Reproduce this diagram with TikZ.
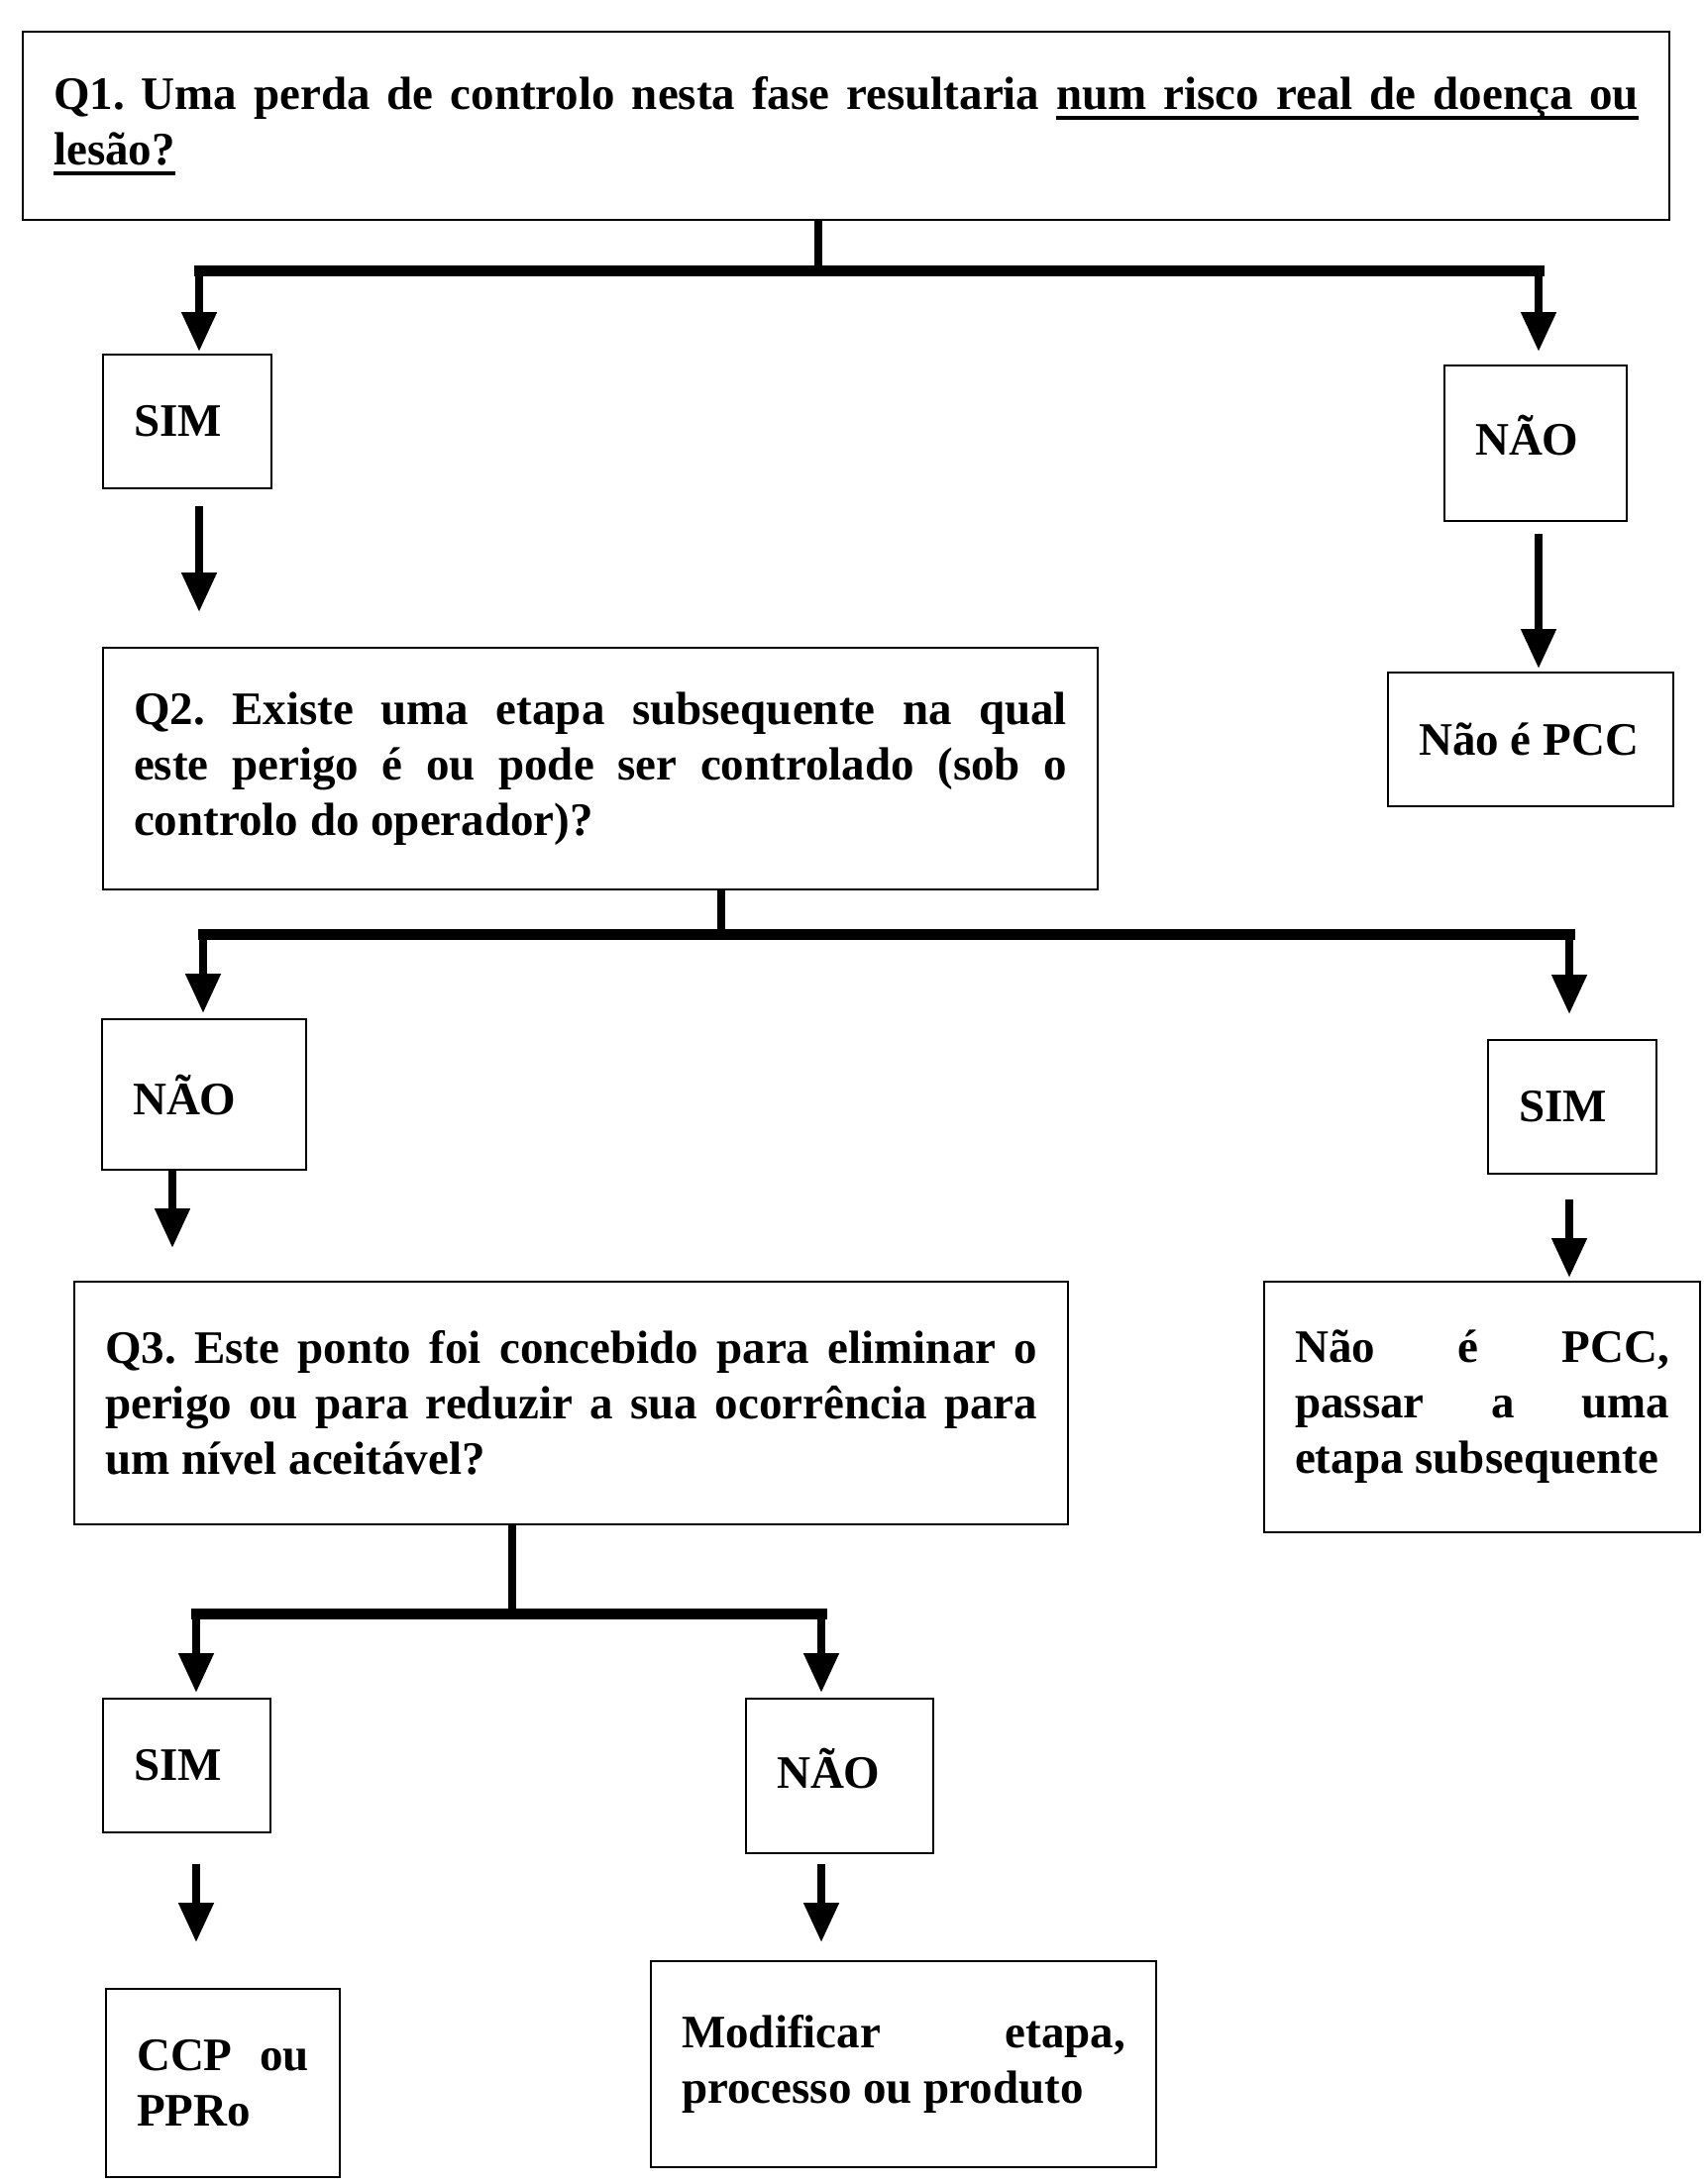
\documentclass[tikz,border=0pt]{standalone}
\usepackage{fontspec}
\setmainfont{Liberation Serif}
\usetikzlibrary{arrows.meta}
\tolerance=10000
\hbadness=10000
\frenchspacing
\newcommand{\thickul}[1]{\setbox0\hbox{#1}\leavevmode\rlap{\rule[-5.5pt]{\wd0}{2.3pt}}\box0}
\newcommand{\ulgap}{\leaders\hrule height -3.2pt depth 5.5pt\hskip\fontdimen2\font plus\fontdimen3\font minus\fontdimen4\font}

\begin{document}
\begin{tikzpicture}[
    x=0.5pt, y=-0.5pt,
    >={Triangle[width=17pt,length=20pt]},
    block/.style={
        rectangle,
        draw=black,
        line width=1.1pt,
        anchor=north west,
        inner xsep=15.5pt,
        inner ysep=0pt,
        align=justify,
        font=\fontsize{23.5}{28}\selectfont\bfseries
    },
    answer/.style={block, align=left},
    stem/.style={line width=4pt},
    bar/.style={line width=5.5pt, line cap=rect},
    arr/.style={->, line width=4pt}
]
\useasboundingbox (0,0) rectangle (1722,2205);

% Question 1 and its answers
\node[block, text width=800pt, minimum height=95pt] (q1) at (22,31)
    {Q1. Uma perda de controlo nesta fase resultaria \thickul{num}\ulgap\thickul{risco}\ulgap\thickul{real}\ulgap\thickul{de}\ulgap\thickul{doença}\ulgap\thickul{ou}\linebreak \thickul{lesão?}};
\node[answer, text width=54pt, minimum height=67.5pt] (sim1) at (103,357) {SIM};
\node[answer, text width=61pt, minimum height=78.5pt, text depth=8pt] (nao1) at (1457,368) {NÃO};
\node[block, text width=113pt, minimum height=67.5pt] (naopcc1) at (1400,678) {Não é PCC};

% Question 2 and its answers
\node[block, text width=471pt, minimum height=122pt] (q2) at (103,653)
    {Q2. Existe uma etapa subsequente na qual\linebreak este perigo é ou pode ser controlado (sob o\linebreak controlo do operador)?};
\node[answer, text width=72pt, minimum height=76pt] (nao2) at (102,1028) {NÃO};
\node[answer, text width=54pt, minimum height=67.5pt] (sim2) at (1501,1049) {SIM};

% Question 3 and its answers
\node[block, text width=470.5pt, minimum height=122.5pt] (q3) at (74,1293)
    {Q3. Este ponto foi concebido para eliminar o\linebreak perigo ou para reduzir a sua ocorrência para\linebreak um nível aceitável?};
\node[block, text width=189pt, minimum height=126.5pt] (naopcc2) at (1275,1293)
    {Não é PCC,\linebreak passar a uma\linebreak etapa subsequente};
\node[answer, text width=53.5pt, minimum height=67.5pt] (sim3) at (103,1714) {SIM};
\node[answer, text width=63.5pt, minimum height=78pt, text depth=8pt] (nao3) at (752,1714) {NÃO};
\node[block, text width=87pt, minimum height=95pt] (ccp) at (106,2007) {CCP ou\linebreak PPRo};
\node[block, text width=224pt, minimum height=104pt] (modif) at (656,1979)
    {Modificar etapa,\linebreak processo ou produto};

% Branch points
\coordinate (j1) at (826,273);
\coordinate (l1) at (201,273);
\coordinate (r1) at (1553,273);
\coordinate (j2) at (728,943);
\coordinate (l2) at (205,943);
\coordinate (r2) at (1584,943);
\coordinate (d2) at (174,943);
\coordinate (j3) at (517,1629);
\coordinate (l3) at (198,1629);
\coordinate (r3) at (829,1629);

% Connectors from Q1
\draw[stem] (q1.south -| j1) -- (j1);
\draw[bar] (l1) -- (r1);
\draw[arr, shorten >=1pt] (l1) -- (l1 |- sim1.north);
\draw[arr, shorten >=6.5pt] (r1) -- (r1 |- nao1.north);
\draw[arr, shorten <=8.5pt, shorten >=17.5pt] (l1 |- sim1.south) -- (l1 |- q2.north);
\draw[arr, shorten <=6pt, shorten >=1.5pt] (r1 |- nao1.south) -- (r1 |- naopcc1.north);

% Connectors from Q2
\draw[stem] (q2.south -| j2) -- (j2);
\draw[bar] (l2) -- (r2);
\draw[arr, shorten >=2.5pt] (l2) -- (l2 |- nao2.north);
\draw[arr, shorten >=12.5pt] (r2) -- (r2 |- sim2.north);
\draw[arr, shorten >=16.5pt] (d2 |- nao2.south) -- (d2 |- q3.north);
\draw[arr, shorten <=12.5pt, shorten >=1.5pt] (r2 |- sim2.south) -- (r2 |- naopcc2.north);

% Connectors from Q3
\draw[stem] (q3.south -| j3) -- (j3);
\draw[bar] (l3) -- (r3);
\draw[arr, shorten >=2.5pt] (l3) -- (l3 |- sim3.north);
\draw[arr, shorten >=2.5pt] (r3) -- (r3 |- nao3.north);
\draw[arr, shorten <=15.5pt, shorten >=23pt] (l3 |- sim3.south) -- (l3 |- ccp.north);
\draw[arr, shorten <=5pt, shorten >=9pt] (r3 |- nao3.south) -- (r3 |- modif.north);

\end{tikzpicture}
\end{document}
